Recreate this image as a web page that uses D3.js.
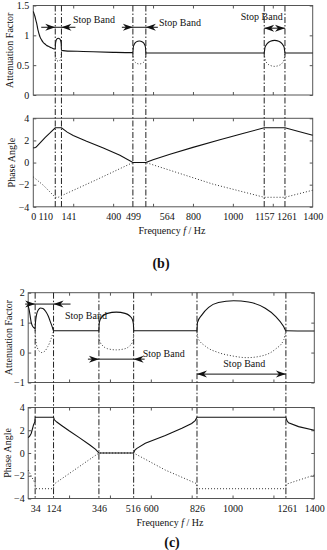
<!DOCTYPE html>
<html>
<head>
<meta charset="utf-8">
<script src="https://cdn.jsdelivr.net/npm/d3@7"></script>
<style>
body{margin:0;background:#fff}
svg{display:block}
text{font-family:"Liberation Serif","Times New Roman","DejaVu Serif",serif;fill:#111}
</style>
</head>
<body>
<script>
// ---- panel (b) ----
var bBands=[[110,141],[499,564],[1157,1261]]
var bTickLabels=[0,110,141,400,499,564,800,1000,1157,1261,1400]

var bAttSolid=[[0,1.40],[4,1.36],[8,1.32],[13,1.25],[17,1.2],[21,1.13],[25,1.07],[30,1.01],[34,0.97],[42,0.92],[50,0.88],[60,0.85],[67,0.83],[80,0.81],[92,0.79],[110,0.77],
  [111,0.85],[114,0.91],[119,0.94],[125,0.95],[132,0.94],[137,0.91],[140,0.85],[141,0.75],
  [160,0.74],[250,0.73],[400,0.715],[499,0.71],
  [501,0.8],[506,0.85],[516,0.89],[531,0.905],[547,0.89],[557,0.85],[562,0.8],[564,0.705],
  [800,0.705],[1157,0.705],
  [1161,0.8],[1172,0.86],[1188,0.9],[1209,0.915],[1230,0.9],[1246,0.86],[1257,0.8],[1261,0.705],
  [1400,0.705]]
var bAttDotted=[
  [[110,0.72],[111,0.66],[114,0.61],[119,0.575],[125,0.565],[132,0.575],[137,0.61],[140,0.66],[141,0.72]],
  [[499,0.7],[501,0.62],[506,0.57],[516,0.535],[531,0.52],[547,0.535],[557,0.57],[562,0.62],[564,0.7]],
  [[1157,0.7],[1161,0.6],[1172,0.53],[1188,0.495],[1209,0.48],[1230,0.495],[1246,0.53],[1257,0.6],[1261,0.7]]
]
var bPhaseSolid=[[0,1.33],[12,1.36],[20,1.5],[40,1.9],[60,2.28],[85,2.7],[110,3.14],[141,3.14],[170,2.75],[200,2.45],[267,1.93],[351,1.32],[434,0.66],[499,0],[564,0],[600,0.25],[685,0.75],[800,1.37],[935,2.06],[1050,2.63],[1157,3.14],[1261,3.14],[1330,2.8],[1400,2.47]]
var bPhaseDotted=[[0,-1.3],[50,-2.05],[110,-3.14],[125,-3.14],[141,-3.0],[317,-1.55],[499,0],[564,0],[685,-0.7],[900,-1.95],[1157,-3.14],[1261,-3.14],[1400,-2.5]]

// ---- panel (c) ----
var cBands=[[34,124],[346,516],[826,1261]]
var cTickLabels=[34,124,346,516,600,826,1000,1261,1400]

var cAttSolid=[[0,1.55],[5,1.42],[10,1.2],[15,1.0],[20,0.9],[26,0.84],[34,0.8],
  [35,0.95],[37,1.1],[42,1.3],[50,1.43],[60,1.49],[72,1.47],[85,1.38],[98,1.22],[110,1.0],[118,0.85],[124,0.73],
  [200,0.73],[346,0.73],
  [347,0.95],[352,1.1],[366,1.23],[388,1.31],[431,1.35],[474,1.31],[496,1.23],[510,1.1],[515,0.95],[516,0.73],
  [700,0.73],[826,0.73],
  [828,1.0],[850,1.26],[883,1.51],[931,1.67],[1005,1.73],[1078,1.69],[1160,1.48],[1209,1.22],[1250,0.87],[1261,0.73],
  [1400,0.72]]
var cAttDotted=[
  [[34,0.75],[36,0.5],[40,0.28],[47,0.12],[57,0.03],[67,0.0],[80,0.04],[93,0.16],[105,0.33],[114,0.5],[120,0.62],[124,0.72]],
  [[346,0.73],[347,0.5],[352,0.35],[366,0.22],[388,0.13],[431,0.09],[474,0.13],[496,0.22],[510,0.35],[515,0.5],[516,0.73]],
  [[826,0.73],[831,0.48],[866,0.22],[931,0.0],[997,-0.11],[1070,-0.17],[1144,-0.11],[1209,0.11],[1250,0.42],[1261,0.73]]
]
var cPhaseSolid=[[0,1.35],[8,1.5],[15,1.74],[26,2.47],[33,2.76],[34,3.14],[124,3.14],[128,2.92],[140,2.72],[165,2.4],[200,1.95],[250,1.35],[300,0.72],[330,0.32],[346,0],[516,0],[522,0.25],[532,0.41],[573,0.85],[671,1.53],[752,2.17],[800,2.6],[817,2.85],[826,3.14],[1261,3.14],[1266,2.85],[1274,2.65],[1323,2.32],[1400,2.0]]
var cPhaseDotted=[[0,-1.5],[10,-1.85],[20,-2.2],[34,-2.67],[35,-3.14],[124,-3.14],[125,-2.75],[346,0],[516,0],[671,-1.5],[825,-2.7],[826,-3.14],[1261,-3.14],[1262,-2.75],[1400,-1.94]]

var FONT="Liberation Serif, Times New Roman, DejaVu Serif, serif"

var svg=d3.select("body").append("svg").attr("width",327).attr("height",550)

var arrowPath=function(xt,y,dir){
  var L=10,w=3.5,n=7
  return "M"+xt+","+y+"L"+(xt-dir*L)+","+(y-w)+"L"+(xt-dir*n)+","+y+"L"+(xt-dir*L)+","+(y+w)+"Z"
}

var drawPlot=function(x,y,yTicks,opt){
  var g=svg.append("g")
  var x0=x.range()[0],x1=x.range()[1],yT=y.range()[1],yB=y.range()[0]
  g.append("rect").attr("x",x0).attr("y",yT).attr("width",x1-x0).attr("height",yB-yT)
    .attr("fill","none").attr("stroke","#555").attr("stroke-width",1)
  var minor=d3.range(200,1400,200)
  g.append("g").attr("transform","translate(0,"+yB+")")
    .call(d3.axisBottom(x).tickValues(minor).tickSize(-3).tickFormat(""))
  g.append("g").attr("transform","translate(0,"+yT+")")
    .call(d3.axisTop(x).tickValues(minor).tickSize(-3).tickFormat(""))
  g.append("g").attr("transform","translate("+x1+",0)")
    .call(d3.axisRight(y).tickValues(yTicks).tickSize(-3).tickFormat(""))
  g.append("g").attr("transform","translate("+x0+",0)")
    .call(d3.axisLeft(y).tickValues(yTicks).tickSize(-3).tickPadding(opt.pad).tickFormat(d3.format("")))
  g.selectAll(".domain").remove()
  g.selectAll(".tick line").attr("stroke","#555")
  g.selectAll(".tick text").attr("font-family",FONT).attr("font-size",10).attr("fill","#111")
  g.append("text").attr("transform","translate("+opt.titleX+","+((yT+yB)/2)+") rotate(-90)")
    .attr("text-anchor","middle").attr("font-size",10).attr("font-family",FONT).text(opt.title)
  return g
}

var drawCurve=function(g,x,y,pts,dotted,curve){
  var line=d3.line().x(function(d){return x(d[0])}).y(function(d){return y(d[1])}).curve(curve)
  g.append("path").attr("d",line(pts)).attr("fill","none")
    .attr("stroke",dotted?"#333":"#111").attr("stroke-width",dotted?1:1.1)
    .attr("stroke-dasharray",dotted?"1,2":null)
}

var drawPanel=function(p){
  var x=d3.scaleLinear().domain([0,1400]).range(p.xRange)
  var yA=d3.scaleLinear().domain(p.attDomain).range(p.attRange)
  var yP=d3.scaleLinear().domain([-4,4]).range(p.phRange)

  var gA=drawPlot(x,yA,p.attTicks,{pad:p.pad,title:"Attenuation Factor",titleX:p.titleXA})
  var gP=drawPlot(x,yP,[-4,-2,0,2,4],{pad:p.pad,title:"Phase Angle",titleX:p.titleXP})

  drawCurve(gA,x,yA,p.attSolid,false,d3.curveMonotoneX)
  p.attDotted.forEach(function(d){drawCurve(gA,x,yA,d,true,d3.curveMonotoneX)})
  drawCurve(gP,x,yP,p.phDotted,true,d3.curveLinear)
  drawCurve(gP,x,yP,p.phSolid,false,d3.curveLinear)

  // band edges
  p.bands.forEach(function(b){
    b.forEach(function(f){
      svg.append("line").attr("x1",x(f)).attr("x2",x(f))
        .attr("y1",p.attRange[1]).attr("y2",p.phRange[0])
        .attr("stroke","#222").attr("stroke-width",1).attr("stroke-dasharray","6,2,1.5,2")
    })
  })

  // x tick labels (some nudged sideways so neighbours don't collide, as in the figure)
  svg.append("g").attr("transform","translate(0,"+p.labelY+")")
    .call(d3.axisBottom(x).tickValues(p.tickLabels).tickSize(0).tickPadding(0).tickFormat(d3.format("")))
    .call(function(s){
      s.select(".domain").remove()
      s.selectAll("text").attr("dy",0).attr("font-family",FONT).attr("font-size",10).attr("fill","#111")
        .attr("x",function(d){return p.shift[d]||0})
    })

  var xl=svg.append("text").attr("x",p.xTitle[0]).attr("y",p.xTitle[1]).attr("text-anchor","middle")
    .attr("font-size",10).attr("font-family",FONT)
  xl.append("tspan").text("Frequency ")
  xl.append("tspan").attr("font-style","italic").text("f")
  xl.append("tspan").text("  / Hz")

  svg.append("text").attr("x",p.tag[0]).attr("y",p.tag[1]).attr("text-anchor","middle")
    .attr("font-size",14).attr("font-weight","bold").attr("font-family",FONT).text(p.tagText)

  // stop band annotations
  p.notes.forEach(function(n,i){
    var b=p.bands[i],xa=x(b[0]),xb=x(b[1]),yy=yA(n.y)
    if(n.inward){
      gA.append("line").attr("x1",xa-n.tl).attr("x2",xb+n.tr).attr("y1",yy).attr("y2",yy).attr("stroke","#111")
      gA.append("path").attr("d",arrowPath(xa,yy,1)).attr("fill","#111")
      gA.append("path").attr("d",arrowPath(xb,yy,-1)).attr("fill","#111")
    } else {
      gA.append("line").attr("x1",xa).attr("x2",xb).attr("y1",yy).attr("y2",yy).attr("stroke","#111")
      gA.append("path").attr("d",arrowPath(xa,yy,-1)).attr("fill","#111")
      gA.append("path").attr("d",arrowPath(xb,yy,1)).attr("fill","#111")
    }
    gA.append("text").attr("x",n.tx).attr("y",n.ty).attr("font-size",10).attr("font-family",FONT).text("Stop Band")
  })
}

drawPanel({
  xRange:[33.3,312.7], attDomain:[0,1.5], attRange:[95,5.5], phRange:[206.8,118.3],
  attTicks:[0,0.5,1,1.5], pad:4, titleXA:13, titleXP:15,
  bands:bBands, tickLabels:bTickLabels, shift:{110:-10,141:7,564:21,1261:1.5},
  labelY:220, xTitle:[172,234], tag:[161,268], tagText:"(b)",
  attSolid:bAttSolid, attDotted:bAttDotted, phSolid:bPhaseSolid, phDotted:bPhaseDotted,
  notes:[{y:1.135,inward:true,tl:14,tr:14,tx:73,ty:22.5},
         {y:1.135,inward:true,tl:11,tr:12,tx:159,ty:25.5},
         {y:1.12,inward:false,tx:240.7,ty:19.8}]
})

drawPanel({
  xRange:[28.2,314.3], attDomain:[-1,2], attRange:[382.5,292.7], phRange:[498.5,407.5],
  attTicks:[-1,0,1,2], pad:3.5, titleXA:11.5, titleXP:10.5,
  bands:cBands, tickLabels:cTickLabels, shift:{516:-1,1261:1},
  labelY:511.5, xTitle:[170,526], tag:[172,547], tagText:"(c)",
  attSolid:cAttSolid, attDotted:cAttDotted, phSolid:cPhaseSolid, phDotted:cPhaseDotted,
  notes:[{y:1.62,inward:true,tl:10,tr:17,tx:65,ty:319},
         {y:-0.22,inward:true,tl:11,tr:11,tx:142.7,ty:356.5},
         {y:-0.72,inward:false,tx:223.3,ty:366.5}]
})
</script>
</body>
</html>
